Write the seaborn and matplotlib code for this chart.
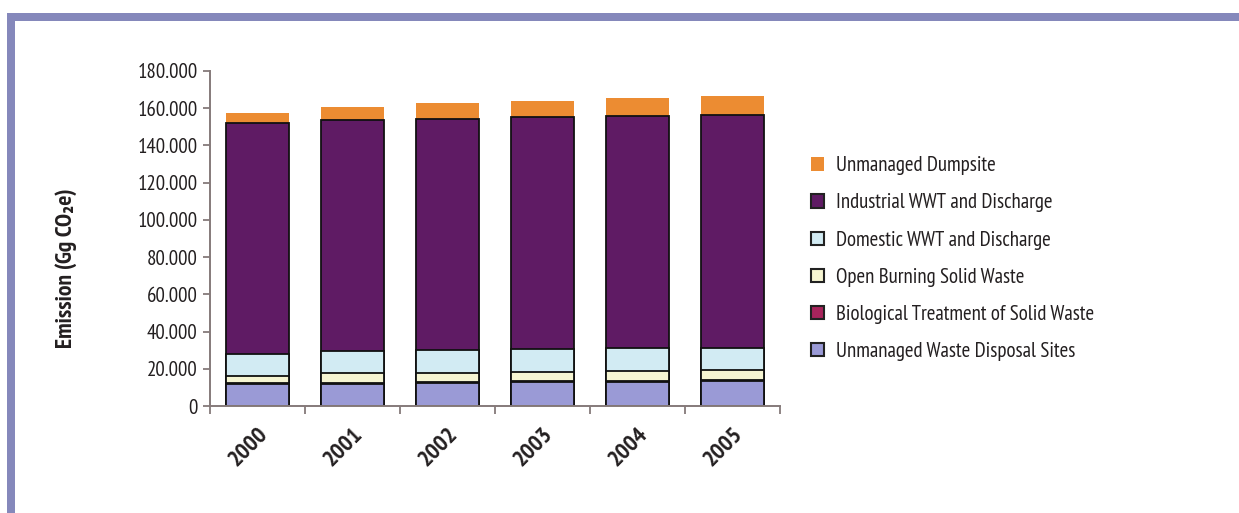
import numpy as np
import seaborn as sns
import matplotlib.pyplot as plt
import matplotlib.transforms as mtransforms
from matplotlib.patches import Patch, Rectangle
from matplotlib.ticker import FixedLocator

# Waste-sector emissions, thousand Gg CO2e, stacked bottom to top
years = ["2000", "2001", "2002", "2003", "2004", "2005"]
unmanaged_disposal_sites = [11.8, 11.8, 12.2, 12.9, 12.9, 13.3]
biological_treatment = [0.5, 0.5, 0.5, 0.5, 0.5, 0.5]
open_burning = [3.8, 5.6, 5.2, 4.9, 5.2, 5.6]
domestic_wwt = [11.7, 11.7, 12.2, 12.5, 12.8, 12.0]
industrial_wwt = [124.3, 124.2, 124.2, 124.4, 124.5, 125.1]
unmanaged_dumpsite = [5.1, 6.6, 8.4, 8.9, 9.7, 10.2]

series_names = [
    "Unmanaged Waste Disposal Sites",
    "Biological Treatment of Solid Waste",
    "Open Burning Solid Waste",
    "Domestic WWT and Discharge",
    "Industrial WWT and Discharge",
    "Unmanaged Dumpsite",
]
series_values = [
    unmanaged_disposal_sites,
    biological_treatment,
    open_burning,
    domestic_wwt,
    industrial_wwt,
    unmanaged_dumpsite,
]
series_colors = ["#9a9ad6", "#a8245c", "#f6f5d2", "#d2ebf3", "#5f1b64", "#ec8c32"]
series_edges = ["#111111", "#111111", "#111111", "#111111", "#111111", "none"]

ytick_values = [0, 20, 40, 60, 80, 100, 120, 140, 160, 180]
ytick_labels = ["0", "20.000", "40.000", "60.000", "80.000", "100.000",
                "120.000", "140.000", "160.000", "180.000"]

sns.set_theme(style="white")
plt.rcParams["font.family"] = ["PT Sans Narrow", "DejaVu Sans"]
text_color = "#231f20"
axis_color = "#857a7a"

fig = plt.figure(figsize=(12.39, 5.13), dpi=100)
fig.patch.set_facecolor("white")

# lavender page frame along the top and left
frame_color = "#8588bb"
fig.patches.append(Rectangle((7 / 1239, 0), 8 / 1239, 1 - 13 / 513,
                             transform=fig.transFigure, color=frame_color, lw=0))
fig.patches.append(Rectangle((7 / 1239, 1 - 21 / 513), 1, 8 / 513,
                             transform=fig.transFigure, color=frame_color, lw=0))

ax = fig.add_axes([210 / 1239, 1 - 406 / 513, 570 / 1239, 335 / 513])

# stacked bars: draw cumulative totals from the top series down
stack_tops = np.cumsum(np.array(series_values), axis=0)
for i in reversed(range(len(series_names))):
    sns.barplot(x=years, y=stack_tops[i], color=series_colors[i],
                edgecolor=series_edges[i],
                linewidth=0 if series_edges[i] == "none" else 1.3,
                width=0.66, saturation=1, errorbar=None, ax=ax)

ax.set_xlim(-0.5, 5.5)
ax.set_ylim(0, 180)
ax.set_yticks(ytick_values)
ax.set_yticklabels(ytick_labels)
ax.set_xlabel("")
ax.set_ylabel("")

for side in ["top", "right"]:
    ax.spines[side].set_visible(False)
for side in ["left", "bottom"]:
    ax.spines[side].set_color(axis_color)
    ax.spines[side].set_linewidth(1.4)

ax.tick_params(axis="y", which="major", left=True, length=5, width=1.3,
               color=axis_color, pad=4, labelsize=15, labelcolor=text_color)
ax.tick_params(axis="x", which="major", bottom=True, length=0, pad=13)
ax.xaxis.set_minor_locator(FixedLocator(np.arange(-0.5, 6, 1.0)))
ax.tick_params(axis="x", which="minor", bottom=True, length=6, width=1.3,
               color=axis_color)
year_shift = mtransforms.ScaledTranslation(-8.5 / 100, 0, fig.dpi_scale_trans)
for lbl in ax.get_xticklabels():
    lbl.set_rotation(45)
    lbl.set_ha("center")
    lbl.set_va("top")
    lbl.set_fontsize(17)
    lbl.set_fontweight("bold")
    lbl.set_color(text_color)
    lbl.set_transform(lbl.get_transform() + year_shift)

fig.text(66 / 1239, 1 - 268 / 513, "Emission (Gg CO\u2082e)", rotation=90,
         ha="center", va="center", fontsize=17, fontweight="bold",
         color=text_color)

handles = [
    Patch(facecolor=series_colors[i],
          edgecolor=("#222222" if series_edges[i] != "none" else series_colors[i]),
          linewidth=1.5 if series_edges[i] != "none" else 0,
          label=series_names[i])
    for i in reversed(range(len(series_names)))
]
fig.legend(handles=handles, loc="upper left",
           bbox_to_anchor=(803 / 1239, 1 - 148 / 513),
           frameon=False, fontsize=15, handlelength=0.62, handleheight=0.62,
           handletextpad=0.58, labelspacing=0.87, labelcolor=text_color,
           borderaxespad=0)

fig.savefig("out.png", dpi=100, facecolor="white")
